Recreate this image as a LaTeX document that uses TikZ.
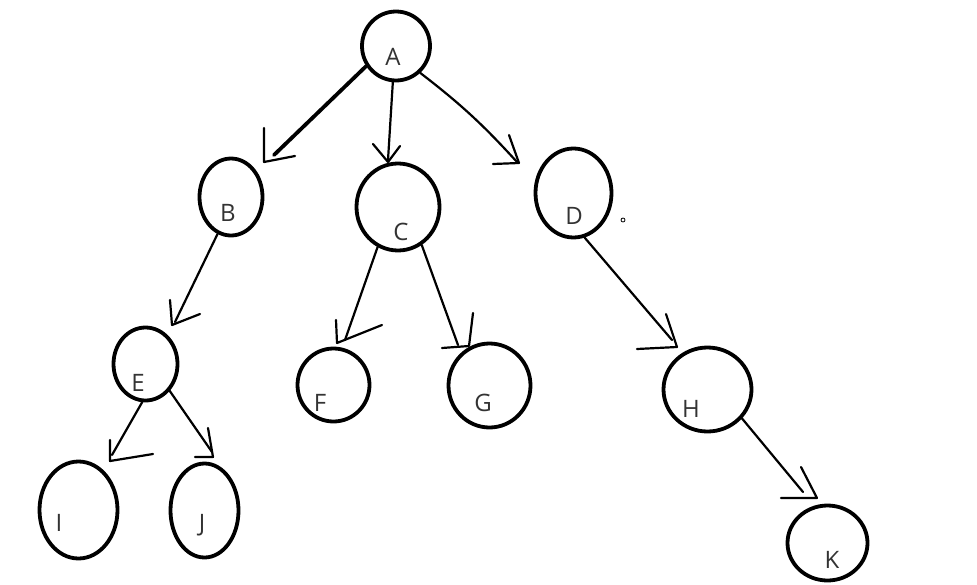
\documentclass[tikz,border=0pt]{standalone}
\usepackage{fontspec}
\setmainfont{Open Sans}
\usetikzlibrary{shapes.geometric}
\definecolor{ink}{HTML}{333333}

\tikzset{
  vert/.style={ellipse,draw,line width=3.8pt,inner sep=0pt},
  lbl/.style={font=\fontsize{24}{28}\selectfont,text=ink,inner sep=0pt},
  edge/.style={line width=2.2pt,line cap=round,line join=round},
}

\begin{document}
\begin{tikzpicture}[x=1pt,y=-1pt]
\useasboundingbox (0,0) rectangle (977,584);
% vertices
\node[vert,minimum width=68pt,minimum height=69pt] (A) at (396,46) {};
\node[vert,minimum width=63pt,minimum height=77pt] (B) at (231,197) {};
\node[vert,minimum width=83pt,minimum height=87pt] (C) at (398,207) {};
\node[vert,minimum width=76pt,minimum height=89pt] (D) at (573.5,193) {};
\node[vert,minimum width=64pt,minimum height=73pt] (E) at (145.5,364) {};
\node[vert,minimum width=72pt,minimum height=73pt] (F) at (333.5,385) {};
\node[vert,minimum width=82pt,minimum height=84pt] (G) at (489.5,385.5) {};
\node[vert,minimum width=88pt,minimum height=84pt] (H) at (707.5,389.5) {};
\node[vert,minimum width=78pt,minimum height=97pt] (I) at (78.5,510) {};
\node[vert,minimum width=68pt,minimum height=94pt] (J) at (204.5,510.5) {};
\node[vert,minimum width=80pt,minimum height=75pt] (K) at (827.5,543) {};
% letters, a bit off centre as in the sketch
\node[lbl] (lA) at (393,57) {A};
\node[lbl] (lB) at (228,213) {B};
\node[lbl] (lC) at (401,232) {C};
\node[lbl] (lD) at (574,216) {D};
\node[lbl] (lE) at (138,383) {E};
\node[lbl] (lF) at (320,403) {F};
\node[lbl] (lG) at (483,403) {G};
\node[lbl] (lH) at (691,409) {H};
\node[lbl] (lI) at (59,523) {I};
\node[lbl] (lJ) at (202,525) {J};
\node[lbl] (lK) at (832,560) {K};
% line ends and hand-drawn heads
\coordinate (eB) at (274,155); \coordinate (tB) at (264,162);
\coordinate (eC) at (388,160); \coordinate (tC) at (388,162);
\coordinate (eD) at (517,162); \coordinate (tD) at (519,163);
\coordinate (eE) at (175,322); \coordinate (tE) at (172,325);
\coordinate (eF) at (345,340); \coordinate (tF) at (337,343);
\coordinate (eG) at (458,345); \coordinate (tG) at (469,346);
\coordinate (eH) at (672,340); \coordinate (tH) at (677,347);
\coordinate (eI) at (112,455); \coordinate (tI) at (110,461);
\coordinate (eJ) at (212,452); \coordinate (tJ) at (213,457);
\coordinate (eK) at (803,492); \coordinate (tK) at (817,498);
% A's children
\draw[edge,line width=3.8pt] (A.214) -- (eB);
\draw[edge] (tB) ++(0,-34) -- (tB) -- ++(31,-6);
\draw[edge] (A.265) -- (eC);
\draw[edge] (tC) ++(-15,-18) -- (tC) -- ++(12,-16);
\draw[edge] (A.312) to[bend left=5] (eD);
\draw[edge] (tD) ++(-10,-28) -- (tD) -- ++(-26,1);
% B, C, D
\draw[edge] (B.250) -- (eE);
\draw[edge] (tE) ++(-2,-25) -- (tE) -- ++(28,-11);
\draw[edge] (C.243) -- (eF);
\draw[edge] (tF) ++(-1,-23) -- (tF) -- ++(45,-18);
\draw[edge] (C.302) -- (eG);
\draw[edge] (tG) ++(4,-33) -- (tG) -- ++(-27,2);
\draw[edge] (D.284) -- (eH);
\draw[edge] (tH) ++(-11,-33) -- (tH) -- ++(-40,2);
% E, H
\draw[edge] (E.265) -- (eI);
\draw[edge] (tI) ++(0,-21) -- (tI) -- ++(43,-7);
\draw[edge] (E.312) -- (eJ);
\draw[edge] (tJ) ++(-5,-29) -- (tJ) -- ++(-18,0);
\draw[edge] (H.320) -- (eK);
\draw[edge] (tK) ++(-16,-31) -- (tK) -- ++(-36,0);
% stray dot
\draw[line width=0.8pt] (623,220) circle (2);
\end{tikzpicture}
\end{document}
